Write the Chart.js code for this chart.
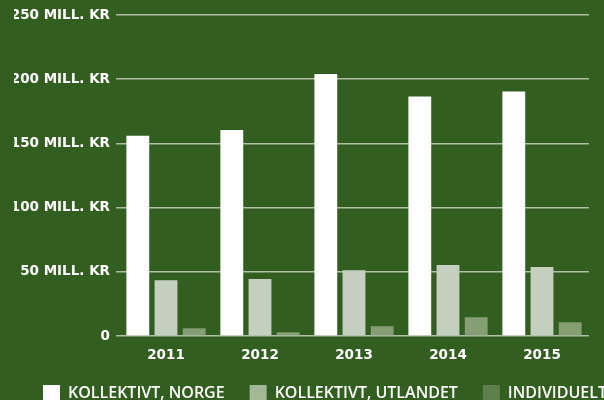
<!DOCTYPE html>
<html>
<head>
<meta charset="utf-8">
<script src="https://cdn.jsdelivr.net/npm/chart.js@4.4.1/dist/chart.umd.min.js"></script>
<style>
  html, body { margin: 0; padding: 0; background: #325e1f; overflow: hidden; }
  #wrap { width: 604px; height: 412px; }
</style>
</head>
<body>
<div id="wrap"><canvas id="chart" width="604" height="412"></canvas></div>
<script>
// data (mill. kr)
const years = ['2011', '2012', '2013', '2014', '2015'];
const kollektivtNorge = [156, 160.5, 204, 186.5, 190.5];
const kollektivtUtlandet = [43.5, 44.3, 51.3, 55.2, 53.7];
const individuelt = [6, 2.9, 7.6, 14.6, 10.7];
const seriesNames = ['KOLLEKTIVT, NORGE', 'KOLLEKTIVT, UTLANDET', 'INDIVIDUELT'];
const yTickLabels = ['0', '50 MILL. KR', '100 MILL. KR', '150 MILL. KR', '200 MILL. KR', '250 MILL. KR'];

// bar colours and legend swatch colours differ a little in the original
const barColors = ['#ffffff', '#c4cfbf', '#869e74'];
const swatchColors = ['#ffffff', '#a3b897', '#5c7f4c'];

const tickFont = { family: 'DejaVu Sans', weight: 'bold', size: 13.5 };

new Chart(document.getElementById('chart'), {
  type: 'bar',
  data: {
    labels: years,
    datasets: [kollektivtNorge, kollektivtUtlandet, individuelt].map((d, i) => ({
      label: seriesNames[i],
      data: d,
      yAxisID: 'y',
      backgroundColor: barColors[i],
      borderWidth: 0,
      categoryPercentage: 0.9,
      barPercentage: 0.81
    }))
  },
  options: {
    responsive: false,
    animation: false,
    // negative right padding lets the legend run to the edge like the original
    layout: { padding: { top: 15, left: 14, right: -28, bottom: 0 } },
    plugins: {
      tooltip: { enabled: false },
      legend: {
        position: 'bottom',
        align: 'end',
        labels: {
          boxWidth: 17,
          boxHeight: 17,
          padding: 25,
          color: '#ffffff',
          font: { family: 'Open Sans', weight: '600', size: 16 },
          generateLabels: chart => chart.data.datasets.map((ds, i) => ({
            text: ds.label,
            fillStyle: swatchColors[i],
            strokeStyle: swatchColors[i],
            lineWidth: 0,
            fontColor: '#ffffff',
            datasetIndex: i
          }))
        }
      }
    },
    scales: {
      x: {
        grid: { display: false },
        border: { display: false },
        ticks: {
          color: '#ffffff',
          font: { ...tickFont, lineHeight: 1.0 },
          padding: 5
        },
        afterFit: s => { s.height = 24; }
      },
      y: {
        min: 0,
        max: 250,
        border: { display: false },
        grid: {
          color: 'rgba(205, 215, 200, 0.8)',
          lineWidth: 1.5,
          tickLength: 3
        },
        ticks: {
          stepSize: 50,
          color: '#ffffff',
          font: tickFont,
          padding: 6,
          callback: (v, i) => yTickLabels[i]
        },
        afterFit: s => { s.width = 105; }
      },
      // empty spacer on the right so the plot ends where the original does
      spacer: {
        position: 'right',
        grid: { display: false },
        border: { display: false },
        ticks: { display: false },
        afterFit: s => { s.width = 43; }
      }
    }
  }
});
</script>
</body>
</html>
